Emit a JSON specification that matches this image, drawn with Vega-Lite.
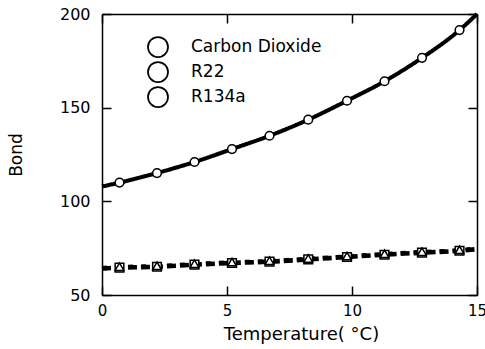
{
  "$schema": "https://vega.github.io/schema/vega-lite/v6.json",
  "width": 375,
  "height": 281,
  "autosize": {"type": "none"},
  "padding": {"left": 102, "top": 14, "right": 8, "bottom": 54},
  "background": "white",
  "config": {
    "view": {"stroke": null},
    "font": "DejaVu Sans",
    "axis": {
      "domainColor": "black",
      "domainWidth": 1.5,
      "tickColor": "black",
      "tickWidth": 1.5,
      "tickSize": -9,
      "grid": false,
      "labelColor": "black",
      "titleColor": "black",
      "labelFont": "DejaVu Sans",
      "titleFont": "DejaVu Sans",
      "titleFontWeight": "normal"
    }
  },
  "data": {
    "values": [
      {"series": "Carbon Dioxide", "t": 0, "bond": 107.9, "marker": false},
      {"series": "Carbon Dioxide", "t": 0.7, "bond": 110.0, "marker": true},
      {"series": "Carbon Dioxide", "t": 2.2, "bond": 115.1, "marker": true},
      {"series": "Carbon Dioxide", "t": 3.7, "bond": 121.0, "marker": true},
      {"series": "Carbon Dioxide", "t": 5.2, "bond": 127.9, "marker": true},
      {"series": "Carbon Dioxide", "t": 6.7, "bond": 135.0, "marker": true},
      {"series": "Carbon Dioxide", "t": 8.25, "bond": 143.6, "marker": true},
      {"series": "Carbon Dioxide", "t": 9.8, "bond": 153.7, "marker": true},
      {"series": "Carbon Dioxide", "t": 11.3, "bond": 164.1, "marker": true},
      {"series": "Carbon Dioxide", "t": 12.8, "bond": 176.6, "marker": true},
      {"series": "Carbon Dioxide", "t": 14.3, "bond": 191.4, "marker": true},
      {"series": "Carbon Dioxide", "t": 15, "bond": 200.0, "marker": false},
      {"series": "R22", "t": 0, "bond": 64.1, "marker": false},
      {"series": "R22", "t": 0.7, "bond": 64.6, "marker": true},
      {"series": "R22", "t": 2.2, "bond": 65.1, "marker": true},
      {"series": "R22", "t": 3.7, "bond": 66.2, "marker": true},
      {"series": "R22", "t": 5.2, "bond": 67.1, "marker": true},
      {"series": "R22", "t": 6.7, "bond": 67.8, "marker": true},
      {"series": "R22", "t": 8.25, "bond": 69.0, "marker": true},
      {"series": "R22", "t": 9.8, "bond": 70.3, "marker": true},
      {"series": "R22", "t": 11.3, "bond": 71.5, "marker": true},
      {"series": "R22", "t": 12.8, "bond": 72.6, "marker": true},
      {"series": "R22", "t": 14.3, "bond": 73.6, "marker": true},
      {"series": "R22", "t": 15, "bond": 74.5, "marker": false},
      {"series": "R134a", "t": 0, "bond": 64.6, "marker": false},
      {"series": "R134a", "t": 0.7, "bond": 65.1, "marker": true},
      {"series": "R134a", "t": 2.2, "bond": 65.6, "marker": true},
      {"series": "R134a", "t": 3.7, "bond": 66.7, "marker": true},
      {"series": "R134a", "t": 5.2, "bond": 67.6, "marker": true},
      {"series": "R134a", "t": 6.7, "bond": 68.3, "marker": true},
      {"series": "R134a", "t": 8.25, "bond": 69.5, "marker": true},
      {"series": "R134a", "t": 9.8, "bond": 70.8, "marker": true},
      {"series": "R134a", "t": 11.3, "bond": 72.0, "marker": true},
      {"series": "R134a", "t": 12.8, "bond": 73.1, "marker": true},
      {"series": "R134a", "t": 14.3, "bond": 74.1, "marker": true},
      {"series": "R134a", "t": 15, "bond": 75.0, "marker": false}
    ]
  },
  "layer": [
    {
      "mark": {"type": "line", "interpolate": "monotone", "color": "black"},
      "encoding": {
        "x": {
          "field": "t", "type": "quantitative",
          "scale": {"domain": [0, 15], "nice": false, "zero": false},
          "axis": {"orient": "bottom", "values": [0, 5, 10, 15], "title": "Temperature( °C)", "labelFontSize": 15, "labelPadding": 17, "titleFontSize": 18, "titlePadding": 7, "titleX": 199, "titleAlign": "center", "labelFlush": false}
        },
        "y": {
          "field": "bond", "type": "quantitative",
          "scale": {"domain": [50, 200], "nice": false, "zero": false},
          "axis": {"orient": "left", "values": [50, 100, 150, 200], "title": "Bond", "labelFontSize": 16, "labelPadding": 21, "titleFontSize": 17, "titlePadding": 34, "labelFlush": false}
        },
        "detail": {"field": "series"},
        "strokeDash": {
          "field": "series", "type": "nominal",
          "scale": {"domain": ["R22", "R134a", "Carbon Dioxide"], "range": [[9, 4], [5, 8], [1, 0]]},
          "legend": null
        },
        "strokeWidth": {
          "field": "series", "type": "nominal",
          "scale": {"domain": ["R134a", "Carbon Dioxide", "R22"], "range": [3.6, 4.6, 3.6]},
          "legend": null
        }
      }
    },
    {
      "transform": [{"filter": "datum.marker"}],
      "mark": {"type": "point", "filled": true, "fill": "white", "stroke": "black", "strokeWidth": 1.5, "size": 75},
      "encoding": {
        "x": {
          "field": "t", "type": "quantitative",
          "axis": {"orient": "top", "values": [0, 5, 10, 15], "labels": false, "title": null}
        },
        "y": {
          "field": "bond", "type": "quantitative",
          "axis": {"orient": "right", "values": [50, 100, 150, 200], "labels": false, "title": null}
        },
        "shape": {
          "field": "series", "type": "nominal",
          "scale": {"domain": ["R22", "R134a", "Carbon Dioxide"], "range": ["square", "triangle-up", "circle"]},
          "legend": null
        },
        "opacity": {
          "field": "series", "type": "nominal",
          "scale": {"domain": ["Carbon Dioxide", "R22", "R134a"], "range": [1, 1, 1]},
          "legend": {
            "orient": "none",
            "legendX": 45,
            "legendY": 22,
            "title": null,
            "padding": 0,
            "rowPadding": -5,
            "labelFont": "DejaVu Sans",
            "labelFontSize": 17,
            "labelColor": "black",
            "labelOffset": 22,
            "symbolSize": 400,
            "symbolStrokeWidth": 1.75,
            "encode": {
              "symbols": {
                "shape": {"value": {"expr": "datum.value === 'Carbon Dioxide' ? 'M-2.81,-0.12H-0.14V0.12H-2.81ZM0.68,-0.12H2.88V0.12H0.68ZM0.68,0A0.41,0.41,0,1,1,-0.14,0A0.41,0.41,0,1,1,0.68,0Z' : datum.value === 'R22' ? 'M-2.98,-0.12H-2.22V0.12H-2.98ZM-1.64,-0.12H-0.89V0.12H-1.64ZM-0.32,-0.33H0.35V0.33H-0.32ZM1.0,-0.12H1.5V0.12H1.0ZM2.05,-0.12H2.45V0.12H2.05Z' : 'M-2.98,-0.12H-2.62V0.12H-2.98ZM-1.64,-0.12H-1.05V0.12H-1.64ZM0.17,-0.38L0.58,0.32L-0.24,0.32ZM1.12,-0.12H1.34V0.12H1.12ZM2.12,-0.12H2.34V0.12H2.12Z'"}},
                "size": {"value": 400},
                "fill": {"value": "white"},
                "stroke": {"value": "black"},
                "strokeWidth": {"value": 1.75}
              }
            }
          }
        }
      }
    }
  ],
  "resolve": {"axis": {"x": "independent", "y": "independent"}}
}
